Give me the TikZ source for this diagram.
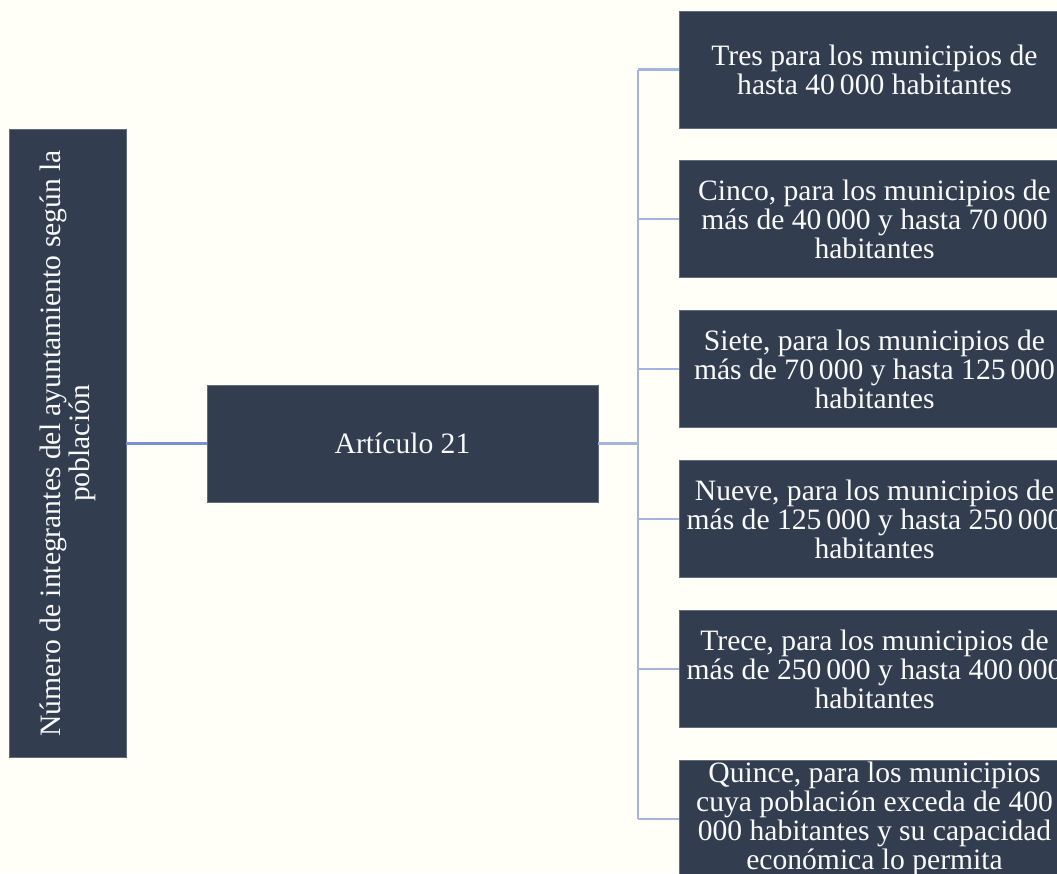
\documentclass[tikz,border=0pt]{standalone}
\usepackage{fontspec}
\setmainfont{Liberation Serif}
\definecolor{bg}{RGB}{255,255,247}
\definecolor{boxfill}{RGB}{50,62,80}
\definecolor{boxline}{RGB}{96,108,128}
\definecolor{connA}{RGB}{118,146,212}
\definecolor{connB}{RGB}{163,180,222}
\definecolor{txt}{RGB}{250,250,250}
\begin{document}
\begin{tikzpicture}[x=1pt,y=-1pt,
  darkbox/.style={draw=boxline,line width=0.8pt,fill=boxfill,text=txt,align=center,
    inner sep=0pt,font=\fontsize{29.6}{29}\selectfont},
  leafbox/.style={darkbox,minimum width=391,minimum height=117},
  connA line/.style={draw=connA,line width=2.6pt},
  connB line/.style={draw=connB,line width=2.6pt}]
\useasboundingbox (0,0) rectangle (1057,873);
\fill[bg] (0,0) rectangle (1057,873);
\clip (0,0) rectangle (1057,873);
\node[darkbox,rotate=90,minimum width=628,minimum height=117] (root) at (67.5,443.5)
  {Número de integrantes del ayuntamiento según la\\población};
\node[darkbox,minimum width=391,minimum height=117] (art) at (402.5,443.5) {Artículo 21};
\node[leafbox] (b1) at (874.5,69.5) {Tres para los municipios de\\hasta 40\,000 habitantes};
\node[leafbox] (b2) at (874.5,219) {Cinco, para los municipios de\\más de 40\,000 y hasta 70\,000\\habitantes};
\node[leafbox] (b3) at (874.5,369) {Siete, para los municipios de\\más de 70\,000 y hasta 125\,000\\habitantes};
\node[leafbox] (b4) at (874.5,519) {Nueve, para los municipios de\\más de 125\,000 y hasta 250\,000\\habitantes};
\node[leafbox] (b5) at (874.5,669) {Trece, para los municipios de\\más de 250\,000 y hasta 400\,000\\habitantes};
\node[leafbox] (b6) at (874.5,819) {Quince, para los municipios\\cuya población exceda de 400\\000 habitantes y su capacidad\\económica lo permita};
\coordinate (bus) at (638,443.5);
\draw[connA line] (root.south) -- (art.west);
\draw[connB line] (art.east) -- (bus);
\draw[connB line] (bus |- b1.west) -- (bus |- b6.west);
\foreach \b in {b1,b2,b3,b4,b5,b6}
  \draw[connB line] (bus |- \b.west) -- (\b.west);
\end{tikzpicture}
\end{document}
